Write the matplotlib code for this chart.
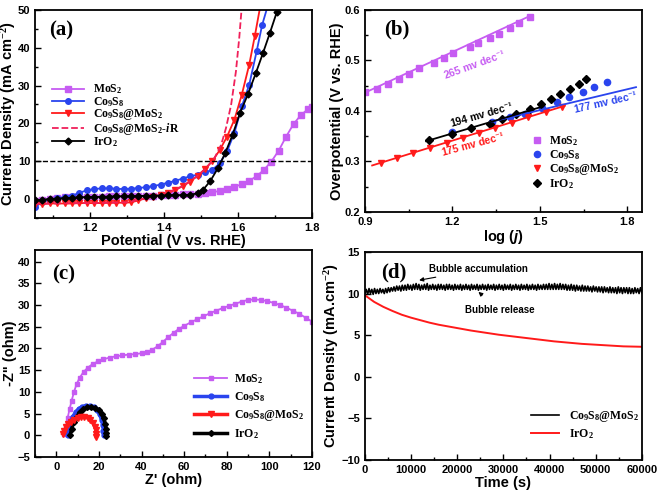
import matplotlib.pyplot as plt
from matplotlib.ticker import MultipleLocator

plt.rcParams['font.family'] = ['Liberation Sans', 'DejaVu Sans']
plt.rcParams['font.weight'] = 'bold'
plt.rcParams['axes.labelweight'] = 'bold'
plt.rcParams['mathtext.fontset'] = 'custom'
plt.rcParams['mathtext.rm'] = 'Liberation Serif:bold'
plt.rcParams['mathtext.it'] = 'Liberation Serif:italic:bold'
plt.rcParams['mathtext.bf'] = 'Liberation Serif:bold'
plt.rcParams['mathtext.sf'] = 'Liberation Sans:italic:bold'

VIOLET = '#c65cf2'
BLUE = '#2a44ee'
RED = '#ff1a1a'
PINK = '#f0205a'

# --- (a) LSV curves ---
a_mos2_x = [1.05, 1.07, 1.09, 1.11, 1.13, 1.15, 1.17, 1.19, 1.21, 1.23, 1.25, 1.27, 1.29,
            1.31, 1.33, 1.35, 1.37, 1.39, 1.41, 1.43, 1.45, 1.47, 1.49, 1.51, 1.53, 1.55,
            1.57, 1.59, 1.61, 1.63, 1.65, 1.67, 1.69, 1.71, 1.73, 1.75, 1.77, 1.79, 1.80]
a_mos2_y = [-0.5, -0.2, 0.1, 0.3, 0.4, 0.5, 0.5, 0.6, 0.6, 0.6, 0.7, 0.7, 0.7,
            0.8, 0.8, 0.9, 0.9, 1.0, 1.0, 1.1, 1.2, 1.3, 1.4, 1.5, 1.8, 2.1,
            2.6, 3.2, 3.9, 4.8, 6.0, 7.7, 9.9, 12.8, 16.5, 19.8, 22.2, 23.8, 24.4]
a_co_x = [1.05, 1.07, 1.09, 1.11, 1.13, 1.15, 1.17, 1.19, 1.21, 1.23, 1.25, 1.27, 1.29,
          1.31, 1.33, 1.35, 1.37, 1.39, 1.41, 1.43, 1.45, 1.47, 1.49, 1.51, 1.53, 1.55,
          1.57, 1.59, 1.61, 1.63, 1.65, 1.665, 1.68]
a_co_y = [-2.1, -0.8, -0.2, 0.2, 0.5, 0.9, 1.6, 2.3, 2.6, 2.8, 2.8, 2.7, 2.6,
          2.7, 2.9, 3.1, 3.4, 3.8, 4.3, 4.8, 5.4, 6.0, 6.4, 7.0, 7.7, 9.4,
          12.6, 17.5, 24.5, 30.2, 39.0, 46.0, 51.0]
a_comos_x = [1.05, 1.07, 1.09, 1.11, 1.13, 1.15, 1.17, 1.19, 1.21, 1.23, 1.25, 1.27, 1.29,
             1.31, 1.33, 1.35, 1.37, 1.39, 1.41, 1.43, 1.45, 1.47, 1.49, 1.51, 1.53, 1.55,
             1.57, 1.59, 1.61, 1.63, 1.645, 1.66]
a_comos_y = [-1.3, -1.3, -1.2, -1.2, -1.2, -1.2, -1.1, -1.1, -1.1, -1.1, -1.0, -1.0, -1.0,
             -0.9, -0.4, 0.2, 0.6, 1.0, 1.6, 2.4, 3.4, 4.6, 6.1, 7.9, 10.0, 12.9,
             16.5, 21.0, 27.6, 35.5, 43.0, 51.0]
a_ir_x = [1.05, 1.1, 1.15, 1.2, 1.25, 1.3, 1.35, 1.4, 1.45, 1.49, 1.513, 1.536, 1.554,
          1.567, 1.581, 1.594, 1.603, 1.61]
a_ir_y = [-1.3, -1.2, -1.1, -1.1, -1.0, -0.9, 0.2, 1.3, 3.4, 6.1, 8.1, 10.8, 14.3,
          18.7, 24.9, 33.7, 42.6, 51.0]
a_iro2_x = [1.05, 1.07, 1.09, 1.11, 1.13, 1.15, 1.17, 1.19, 1.21, 1.23, 1.25, 1.27, 1.29,
            1.31, 1.33, 1.35, 1.37, 1.39, 1.41, 1.43, 1.45, 1.47, 1.49, 1.505, 1.525,
            1.545, 1.565, 1.585, 1.605, 1.627, 1.648, 1.667, 1.686, 1.705, 1.715]
a_iro2_y = [-0.4, -0.2, 0.0, 0.1, 0.2, 0.3, 0.4, 0.5, 0.5, 0.6, 0.6, 0.7, 0.7,
            0.7, 0.8, 0.8, 0.9, 0.9, 1.0, 1.0, 1.0, 1.1, 1.5, 2.4, 4.8,
            8.1, 12.1, 17.0, 22.7, 27.8, 33.3, 38.5, 43.9, 49.5, 52.0]

# --- (b) Tafel plots ---
b_mos2_x = [0.900, 0.940, 0.979, 1.017, 1.053, 1.085, 1.138, 1.172, 1.202, 1.262, 1.288,
            1.328, 1.361, 1.398, 1.429, 1.466]
b_mos2_y = [0.437, 0.444, 0.454, 0.464, 0.474, 0.484, 0.494, 0.505, 0.514, 0.526, 0.534,
            0.544, 0.553, 0.565, 0.575, 0.586]
b_co_x = [1.2, 1.336, 1.398, 1.45, 1.506, 1.56, 1.60, 1.647, 1.687, 1.73]
b_co_y = [0.358, 0.378, 0.387, 0.394, 0.405, 0.418, 0.428, 0.438, 0.447, 0.457]
b_comos_x = [0.955, 1.01, 1.065, 1.125, 1.18, 1.235, 1.29, 1.345, 1.405, 1.46, 1.52, 1.575]
b_comos_y = [0.297, 0.307, 0.317, 0.327, 0.337, 0.347, 0.357, 0.367, 0.377, 0.387, 0.397, 0.407]
b_iro2_x = [1.12, 1.2, 1.265, 1.33, 1.37, 1.42, 1.465, 1.505, 1.54, 1.57, 1.605, 1.635, 1.66]
b_iro2_y = [0.343, 0.355, 0.366, 0.375, 0.384, 0.393, 0.403, 0.413, 0.424, 0.433, 0.443,
            0.453, 0.463]
# fitted lines (end points)
fit_mos2 = ([0.9, 1.47], [0.436, 0.589])
fit_co = ([1.33, 1.83], [0.378, 0.447])
fit_comos = ([0.925, 1.585], [0.292, 0.410])
fit_iro2 = ([1.11, 1.506], [0.340, 0.408])
slopes = ['265', '177', '175', '194']

# --- (c) Nyquist plots ---
c_mos2_x = [3.8, 4.5, 5.3, 6.2, 7.2, 8.3, 9.5, 11, 12.8, 14.8, 17, 19.5, 22, 25, 28, 31, 34,
            37, 40, 42.5, 45, 47.5, 50, 52.5, 55, 57.5, 60, 63, 66, 69, 72, 75, 78, 81, 84,
            87, 90, 93, 96, 99, 102, 105, 108, 111, 114, 117, 120]
c_mos2_y = [0.2, 2, 4, 6, 8, 10, 11.8, 13.3, 14.6, 15.6, 16.4, 17.0, 17.5, 17.9, 18.2, 18.4,
            18.6, 18.7, 18.9, 19.2, 19.7, 20.5, 21.5, 22.6, 23.6, 24.5, 25.2, 26.0, 26.7,
            27.4, 28.1, 28.7, 29.3, 29.8, 30.3, 30.8, 31.2, 31.3, 31.2, 30.9, 30.5, 30.0,
            29.4, 28.7, 28.0, 27.1, 26.2]
c_co_x = [5.3, 5.8, 6.6, 7.7, 9.0, 10.5, 12.2, 14.0, 15.8, 17.5, 19.0, 20.3, 21.2, 21.8,
          22.1, 22.2]
c_co_y = [0.1, 1.5, 3.0, 4.3, 5.3, 6.1, 6.6, 6.8, 6.8, 6.5, 5.8, 4.8, 3.6, 2.3, 1.0, 0.1]
c_comos_x = [3.0, 3.5, 4.5, 5.7, 7.0, 8.5, 10.0, 11.6, 13.2, 14.7, 16.0, 17.2, 18.1, 18.6,
             18.7, 18.7]
c_comos_y = [0.4, 1.0, 1.8, 2.5, 3.1, 3.6, 4.0, 4.2, 4.2, 4.0, 3.5, 2.8, 2.0, 1.2, 0.4, -0.3]
c_iro2_x = [6.5, 7.2, 8.2, 9.5, 11.0, 12.7, 14.6, 16.5, 18.3, 19.9, 21.2, 22.2, 22.9, 23.3,
            23.4, 23.4]
c_iro2_y = [0.1, 1.5, 3.0, 4.3, 5.3, 6.0, 6.4, 6.5, 6.3, 5.8, 5.0, 3.9, 2.7, 1.5, 0.5, -0.2]

# --- (d) chronoamperometry ---
d_step = 300  # s between recorded points of the Co9S8@MoS2 trace
d_comos_y = [
    10.0, 10.5, 9.9, 10.6, 10.0, 10.5, 9.9, 10.6, 10.0, 10.5,
    10.0, 10.6, 10.1, 10.5, 10.0, 10.6, 10.1, 10.7, 10.2, 10.7,
    10.3, 10.8, 10.3, 10.9, 10.4, 10.9, 10.3, 11.0, 10.4, 11.0,
    10.4, 11.1, 10.5, 11.0, 10.4, 11.1, 10.5, 11.2, 10.5, 11.1,
    10.4, 11.0, 10.5, 11.1, 10.5, 11.2, 10.4, 11.0, 10.5, 11.1,
    10.5, 11.0, 10.4, 11.1, 10.5, 11.1, 10.5, 11.0, 10.4, 11.1,
    10.5, 11.1, 10.5, 11.0, 10.4, 11.1, 10.5, 11.0, 10.5, 11.1,
    10.4, 11.0, 10.5, 11.1, 10.5, 11.0, 10.4, 11.1, 10.5, 11.0,
    10.5, 11.1, 10.4, 11.0, 10.5, 11.1, 10.5, 11.0, 10.4, 11.1,
    10.5, 11.0, 10.5, 11.1, 10.4, 11.0, 10.5, 11.1, 10.5, 11.0,
    10.4, 11.1, 10.5, 11.0, 10.5, 11.1, 10.4, 11.0, 10.5, 11.1,
    10.5, 11.0, 10.4, 11.1, 10.5, 11.0, 10.5, 11.1, 10.4, 11.0,
    10.5, 11.1, 10.5, 11.0, 10.4, 11.1, 10.5, 11.0, 10.5, 11.1,
    10.5, 11.1, 10.5, 11.2, 10.5, 11.1, 10.5, 11.2, 10.5, 11.1,
    10.5, 11.2, 10.5, 11.1, 10.5, 11.1, 10.4, 11.0, 10.4, 11.1,
    10.4, 11.0, 10.3, 11.0, 10.4, 10.9, 10.3, 11.0, 10.3, 10.9,
    10.3, 10.9, 10.3, 10.8, 10.2, 10.9, 10.3, 10.8, 10.2, 10.8,
    10.2, 10.8, 10.1, 10.8, 10.2, 10.7, 10.1, 10.8, 10.1, 10.7,
    10.1, 10.7, 10.0, 10.8, 10.1, 10.7, 10.0, 10.7, 10.1, 10.7,
    10.0, 10.7, 10.0, 10.6, 10.0, 10.7, 10.1, 10.6, 10.0, 10.7,
    10.1]
d_comos_t = [i * d_step for i in range(len(d_comos_y))]
d_iro2_t = [0, 1000, 2000, 3000, 4000, 5000, 6000, 8000, 10000, 12000, 14000, 16000, 18000,
            20000, 23000, 26000, 29000, 32000, 35000, 38000, 41000, 44000, 47000, 50000,
            53000, 56000, 60000]
d_iro2_y = [9.8, 9.4, 9.0, 8.7, 8.4, 8.15, 7.9, 7.45, 7.1, 6.8, 6.5, 6.25, 6.05, 5.85, 5.55,
            5.3, 5.05, 4.85, 4.65, 4.45, 4.25, 4.1, 3.95, 3.85, 3.75, 3.65, 3.6]

L_MOS2 = 'MoS$_2$'
L_CO = 'Co$_9$S$_8$'
L_COMOS = 'Co$_9$S$_8$@MoS$_2$'
L_IR = r'Co$_9$S$_8$@MoS$_2$-$\mathit{i}$R'
L_IRO2 = 'IrO$_2$'

LEG_FONT = {'family': ['Liberation Serif', 'DejaVu Serif'], 'weight': 'bold', 'size': 8.5}


def style(ax, xmaj, xmin, ymaj, ymin):
    ax.xaxis.set_major_locator(MultipleLocator(xmaj))
    ax.xaxis.set_minor_locator(MultipleLocator(xmin))
    ax.yaxis.set_major_locator(MultipleLocator(ymaj))
    ax.yaxis.set_minor_locator(MultipleLocator(ymin))
    ax.tick_params(which='both', direction='in', top=False, right=False, width=1)
    ax.tick_params(which='major', length=4, labelsize=8)
    ax.tick_params(which='minor', length=2)
    for s in ax.spines.values():
        s.set_linewidth(1.3)


def labels(ax, xl, yl):
    ax.set_xlabel(xl, fontsize=10.5, fontweight='bold', labelpad=1)
    ax.set_ylabel(yl, fontsize=10.5, fontweight='bold', labelpad=0)


def panel(ax, txt, x, y):
    ax.text(x, y, txt, transform=ax.transAxes, ha='left', va='top', fontsize=15,
            fontfamily='Liberation Serif', fontweight='bold')


fig = plt.figure(figsize=(6.61, 4.94), dpi=100)
ax_a = fig.add_axes([0.053, 0.559, 0.419, 0.421])
ax_b = fig.add_axes([0.552, 0.571, 0.419, 0.409])
ax_c = fig.add_axes([0.053, 0.075, 0.419, 0.419])
ax_d = fig.add_axes([0.552, 0.069, 0.419, 0.421])

# (a)
ax_a.plot(a_mos2_x, a_mos2_y, '-s', color=VIOLET, ms=4, lw=1.3, label=L_MOS2)
ax_a.plot(a_co_x, a_co_y, '-o', color=BLUE, ms=4, lw=1.3, label=L_CO)
ax_a.plot(a_comos_x, a_comos_y, '-v', color=RED, ms=4.5, lw=1.3, label=L_COMOS)
ax_a.plot(a_ir_x, a_ir_y, '--', color=PINK, lw=1.3, label=L_IR)
ax_a.plot(a_iro2_x, a_iro2_y, '-D', color='black', ms=3.5, lw=1.3, label=L_IRO2)
ax_a.axhline(10, color='black', ls='--', lw=1)
ax_a.set_xlim(1.05, 1.8)
ax_a.set_ylim(-5, 50)
style(ax_a, 0.2, 0.1, 10, 5)
labels(ax_a, 'Potential (V vs. RHE)', 'Current Density (mA cm$^{-2}$)')
ax_a.legend(loc='upper left', bbox_to_anchor=(0.06, 0.65), frameon=False, prop=LEG_FONT,
            handlelength=2.7, handletextpad=0.8, labelspacing=-0.12, borderpad=0,
            borderaxespad=0)
panel(ax_a, '(a)', 0.05, 0.95)

# (b)
ax_b.plot(b_mos2_x, b_mos2_y, 's', color=VIOLET, ms=4.5, label=L_MOS2)
ax_b.plot(b_co_x, b_co_y, 'o', color=BLUE, ms=4.5, label=L_CO)
ax_b.plot(b_comos_x, b_comos_y, 'v', color=RED, ms=5, label=L_COMOS)
ax_b.plot(b_iro2_x, b_iro2_y, 'D', color='black', ms=4, label=L_IRO2)
ax_b.plot(*fit_mos2, '-', color=VIOLET, lw=1.3)
ax_b.plot(*fit_co, '-', color=BLUE, lw=1.3)
ax_b.plot(*fit_comos, '-', color=RED, lw=1.3)
ax_b.plot(*fit_iro2, '-', color='black', lw=1.3)
ax_b.set_xlim(0.9, 1.85)
ax_b.set_ylim(0.2, 0.6)
style(ax_b, 0.3, 0.15, 0.1, 0.05)
labels(ax_b, r'log ($\mathsf{j}$)', 'Overpotential (V vs. RHE)')
tafel_text = [(1.275, 0.490, 20, VIOLET, slopes[0]),
              (1.725, 0.416, 13, BLUE, slopes[1]),
              (1.27, 0.333, 15, RED, slopes[2]),
              (1.30, 0.392, 16, 'black', slopes[3])]
for x, y, rot, col, s in tafel_text:
    ax_b.text(x, y, s + ' mv dec$^{-1}$', color=col, fontsize=7.5, fontweight='bold',
              rotation=rot, ha='center', va='center', rotation_mode='anchor')
ax_b.legend(loc='upper left', bbox_to_anchor=(0.6, 0.385), frameon=False, prop=LEG_FONT,
            handlelength=1.0, handletextpad=0.5, labelspacing=0.0, borderpad=0,
            borderaxespad=0)
panel(ax_b, '(b)', 0.07, 0.95)

# (c)
ax_c.plot(c_mos2_x, c_mos2_y, '-s', color=VIOLET, ms=3, lw=1.3, label=L_MOS2)
ax_c.plot(c_co_x, c_co_y, '-o', color=BLUE, ms=3.5, lw=2.5, label=L_CO)
ax_c.plot(c_iro2_x, c_iro2_y, '-D', color='black', ms=3, lw=2.5, label=L_IRO2)
ax_c.plot(c_comos_x, c_comos_y, '-v', color=RED, ms=4, lw=2.5, label=L_COMOS)
ax_c.set_xlim(-10, 120)
ax_c.set_ylim(-5, 42.7)
style(ax_c, 20, 10, 5, 5)
labels(ax_c, "Z' (ohm)", '-Z" (ohm)')
h, l = ax_c.get_legend_handles_labels()
order = [0, 1, 3, 2]
ax_c.legend([h[i] for i in order], [l[i] for i in order], loc='upper left',
            bbox_to_anchor=(0.575, 0.41), frameon=False, prop=LEG_FONT,
            handlelength=2.8, handletextpad=0.6, labelspacing=0.35, borderpad=0,
            borderaxespad=0)
panel(ax_c, '(c)', 0.06, 0.93)

# (d)
ax_d.plot(d_comos_t, d_comos_y, '-', color='black', lw=1.2, label=L_COMOS)
ax_d.plot(d_iro2_t, d_iro2_y, '-', color=RED, lw=1.4, label=L_IRO2)
ax_d.set_xlim(0, 60000)
ax_d.set_ylim(-10, 15)
style(ax_d, 10000, 5000, 5, 5)
labels(ax_d, 'Time (s)', 'Current Density (mA.cm$^{-2}$)')
ax_d.annotate('Bubble accumulation', xy=(11750, 11.6), xytext=(13900, 12.9),
              fontsize=7, fontweight='bold', va='center', ha='left',
              arrowprops=dict(arrowstyle='-|>', color='black', lw=0.8, mutation_scale=6,
                              shrinkA=0, shrinkB=0))
ax_d.annotate('Bubble release', xy=(24600, 10.2), xytext=(21600, 8.0),
              fontsize=7, fontweight='bold', va='center', ha='left',
              arrowprops=dict(arrowstyle='-|>', color='black', lw=0.8, mutation_scale=6,
                              shrinkA=8, shrinkB=0))
ax_d.legend(loc='upper left', bbox_to_anchor=(0.6, 0.245), frameon=False, prop=LEG_FONT,
            handlelength=2.4, handletextpad=0.8, labelspacing=0.25, borderpad=0,
            borderaxespad=0)
panel(ax_d, '(d)', 0.06, 0.95)

# bold tick labels (set once the limits are final)
for ax in (ax_a, ax_b, ax_c, ax_d):
    plt.setp(ax.get_xticklabels() + ax.get_yticklabels(), fontweight='bold')

fig.savefig('out.png', dpi=100)
